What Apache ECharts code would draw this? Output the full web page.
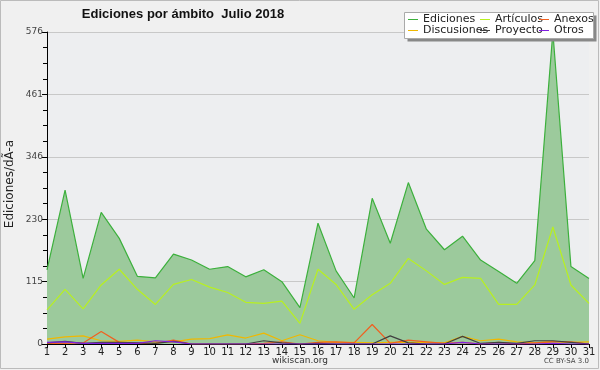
<!DOCTYPE html>
<html><head><meta charset="utf-8">
<script src="https://cdn.jsdelivr.net/npm/echarts@6/dist/echarts.min.js"></script>
<style>html,body{margin:0;padding:0;background:#f0f0f0}#c{width:600px;height:370px}</style>
</head><body><div id="c"></div>
<script>
const days = Array.from({length:31},(_,i)=>String(i+1));
const ediciones  = [137,284,121,243,195,125,122,166,155,138,143,124,137,115,67,223,135,85,269,186,298,212,174,199,155,134,112,154,576,143,121];
const articulos  = [63,101,65,109,138,101,73,110,119,105,95,77,75,79,38,138,110,64,91,112,158,135,110,123,121,73,73,109,216,109,75];
const discusiones= [9,13,15,6,5,7,4,4,9,10,17,11,20,6,17,6,3,3,2,3,3,3,2,14,6,9,4,2,5,3,4];
const anexos     = [1,1,2,23,3,1,1,7,0,0,0,0,1,4,0,3,4,2,36,1,7,4,1,3,0,3,0,2,4,4,0];
const proyecto   = [2,5,1,3,3,2,1,5,0,0,0,0,6,2,0,1,0,0,0,15,2,0,0,14,1,3,1,6,6,3,0];
const otros      = [3,4,1,1,1,1,6,4,0,0,0,0,0,0,0,0,0,0,0,0,0,0,0,3,0,0,0,0,1,0,0];
const yTicks = [0,115,230,346,461,576];

const F = 'DejaVu Sans';
const chart = echarts.init(document.getElementById('c'), null, {renderer:'canvas'});
function line(name, data, color, z){
  return {name, type:'line', data, symbol:'none', z, lineStyle:{width:1.2, color}, itemStyle:{color}, animation:false};
}
const legendBase = {orient:'vertical', itemWidth:10, itemHeight:1, icon:'rect', itemGap:0, z:20,
  textStyle:{fontFamily:F, fontSize:11, color:'#222', lineHeight:10, padding:[0,0,0,0]}, padding:0, selectedMode:false};
chart.setOption({
  backgroundColor:'#f0f0f0',
  animation:false,
  grid:{left:47, right:11, top:32, bottom:26, show:true, backgroundColor:'#edeef0', borderWidth:0},
  xAxis:{type:'category', data:days, boundaryGap:false,
    axisLine:{lineStyle:{color:'#000', width:1}},
    axisTick:{alignWithLabel:true, length:4, lineStyle:{color:'#000'}},
    axisLabel:{fontFamily:F, fontSize:10, color:'#222', margin:3, interval:0}},
  yAxis:{type:'value', min:0, max:576, interval:115.2,
    axisLine:{show:true, lineStyle:{color:'#000'}},
    axisTick:{show:true, length:5, lineStyle:{color:'#000'}},
    minorTick:{show:true, splitNumber:4, length:4, lineStyle:{color:'#000'}},
    splitLine:{show:true, lineStyle:{color:'#c8c8c8', width:1}},
    axisLabel:{fontFamily:F, fontSize:9, color:'#444', margin:4, formatter:v=>String(Math.round(v))}},
  legend:[
    Object.assign({left:408, top:14, data:['Ediciones','Discusiones']}, legendBase),
    Object.assign({left:480, top:14, data:['Artículos','Proyecto']}, legendBase),
    Object.assign({left:539, top:14, data:['Anexos','Otros']}, legendBase)
  ],
  graphic:[
    {type:'rect', shape:{x:407.5, y:15.5, width:189, height:26}, style:{fill:'#888'}, z:10, silent:true},
    {type:'rect', shape:{x:404.5, y:12.5, width:189, height:26}, style:{fill:'#fff', stroke:'#aaa', lineWidth:1}, z:11, silent:true},
    {type:'text', x:183, y:14, style:{text:'Ediciones por ámbito  Julio 2018', font:'bold 13px "Liberation Sans"', fill:'#111', align:'center', verticalAlign:'middle'}},
    {type:'text', x:10, y:184, rotation:Math.PI/2, style:{text:'Ediciones/dÃ-a', font:'12px "DejaVu Sans"', fill:'#222', align:'center', verticalAlign:'middle'}},
    {type:'text', x:300, y:361, style:{text:'wikiscan.org', font:'9px "DejaVu Sans"', fill:'#333', align:'center', verticalAlign:'middle'}},
    {type:'text', x:589, y:361, style:{text:'CC BY-SA 3.0', font:'7px "DejaVu Sans"', fill:'#444', align:'right', verticalAlign:'middle'}},
    {type:'rect', shape:{x:0.5, y:0.5, width:598, height:368}, style:{fill:'none', stroke:'#bbb', lineWidth:1}, silent:true}
  ],
  series:[
    Object.assign(line('Ediciones', ediciones, '#3cb03c', 2), {areaStyle:{color:'#9cca9c', opacity:1}}),
    line('Artículos', articulos, '#b8f020', 3),
    line('Discusiones', discusiones, '#f0b800', 4),
    line('Anexos', anexos, '#f06020', 5),
    line('Proyecto', proyecto, '#404040', 6),
    line('Otros', otros, '#8020e0', 7)
  ]
});
</script></body></html>
